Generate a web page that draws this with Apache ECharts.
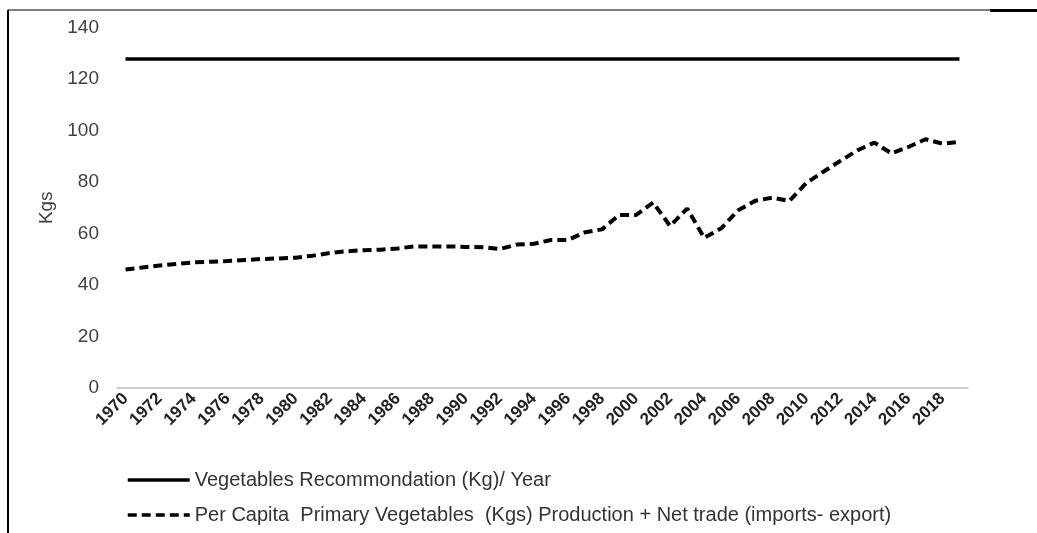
<!DOCTYPE html>
<html>
<head>
<meta charset="utf-8">
<script src="https://cdn.jsdelivr.net/npm/echarts@6/dist/echarts.min.js"></script>
<style>
html,body{margin:0;padding:0;background:#fff;}
#chart{width:1037px;height:533px;}
</style>
</head>
<body>
<div id="chart"></div>
<script>
var years = [];
for (var y = 1970; y <= 2019; y++) years.push(String(y));

var recommendationName = 'Vegetables Recommondation (Kg)/ Year';
var perCapitaName = 'Per Capita  Primary Vegetables  (Kgs) Production + Net trade (imports- export)';

var recommendation = [
  127.75,127.75,127.75,127.75,127.75,127.75,127.75,127.75,127.75,127.75,
  127.75,127.75,127.75,127.75,127.75,127.75,127.75,127.75,127.75,127.75,
  127.75,127.75,127.75,127.75,127.75,127.75,127.75,127.75,127.75,127.75,
  127.75,127.75,127.75,127.75,127.75,127.75,127.75,127.75,127.75,127.75,
  127.75,127.75,127.75,127.75,127.75,127.75,127.75,127.75,127.75,127.75
];

var perCapita = [
  46.0, 46.8, 47.6, 48.2, 48.8, 49.0, 49.3, 49.7, 50.1, 50.3,
  50.6, 51.4, 52.4, 53.1, 53.5, 53.7, 54.2, 55.0, 55.0, 55.0,
  54.8, 54.7, 54.0, 55.7, 56.0, 57.5, 57.5, 60.5, 61.6, 67.2,
  67.2, 72.0, 62.9, 69.7, 58.3, 62.0, 69.0, 72.7, 73.9, 72.6,
  79.6, 84.0, 88.2, 92.3, 95.3, 91.1, 93.6, 96.6, 94.9, 95.6
];

var yTicks = { min: 0, max: 140, interval: 20 };

var chart = echarts.init(document.getElementById('chart'), null, {renderer: 'canvas'});
var font = '"Liberation Sans", Arial, sans-serif';
chart.setOption({
  animation: false,
  backgroundColor: '#ffffff',
  grid: { left: 117, right: 69, top: 27.5, bottom: 145, containLabel: false },
  legend: {
    orient: 'vertical',
    left: 126,
    top: 470,
    padding: 0,
    itemWidth: 62,
    itemHeight: 14,
    itemGap: 15,
    itemStyle: { opacity: 0 },
    lineStyle: { width: 3.5 },
    textStyle: { fontFamily: font, fontSize: 20, color: '#333', lineHeight: 20 },
    data: [recommendationName, perCapitaName]
  },
  xAxis: {
    type: 'category',
    data: years,
    boundaryGap: true,
    axisLine: { lineStyle: { color: '#bfbfbf', width: 1.5 } },
    axisTick: { show: false },
    axisLabel: {
      interval: 1,
      rotate: 45,
      fontFamily: font,
      fontSize: 17,
      fontWeight: 'bold',
      color: '#222',
      margin: 8
    },
    splitLine: { show: false }
  },
  yAxis: {
    type: 'value',
    min: yTicks.min,
    max: yTicks.max,
    interval: yTicks.interval,
    name: 'Kgs',
    nameLocation: 'middle',
    nameGap: 60,
    nameRotate: 90,
    nameTextStyle: { fontFamily: font, fontSize: 19, color: '#404040' },
    axisLine: { show: false },
    axisTick: { show: false },
    splitLine: { show: false },
    axisLabel: { fontFamily: font, fontSize: 19, color: '#404040', margin: 18 }
  },
  series: [
    {
      name: recommendationName,
      type: 'line',
      data: recommendation,
      symbol: 'none',
      lineStyle: { color: '#000', width: 3.5, type: 'solid' },
      itemStyle: { color: '#000' }
    },
    {
      name: perCapitaName,
      type: 'line',
      data: perCapita,
      symbol: 'none',
      lineStyle: { color: '#000', width: 4, type: [9, 5] },
      itemStyle: { color: '#000' }
    }
  ],
  graphic: [
    { type: 'line', shape: { x1: 8, y1: 10, x2: 8, y2: 533 }, style: { stroke: '#000', lineWidth: 2 } },
    { type: 'line', shape: { x1: 8, y1: 10, x2: 990, y2: 10 }, style: { stroke: '#000', lineWidth: 1.2 } },
    { type: 'line', shape: { x1: 990, y1: 10.5, x2: 1037, y2: 10.5 }, style: { stroke: '#000', lineWidth: 3 } }
  ]
});
</script>
</body>
</html>
